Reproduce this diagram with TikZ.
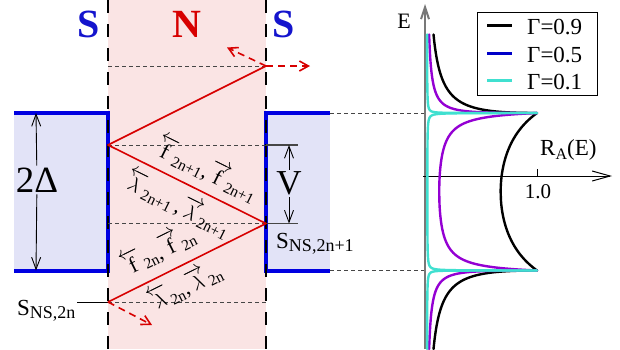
\documentclass[tikz,border=0pt]{standalone}
\usepackage{amsmath}
\usepackage{fontspec}
\setmainfont{Liberation Serif}
\newfontfamily\tms{Liberation Serif}
\usetikzlibrary{arrows.meta}
\definecolor{pinkfill}{RGB}{250,228,228}
\definecolor{bluefill}{RGB}{226,227,247}
\definecolor{sblue}{RGB}{0,0,225}
\definecolor{slabel}{RGB}{20,20,205}
\definecolor{nred}{RGB}{215,0,0}
\definecolor{cturq}{RGB}{64,224,208}
\definecolor{cpurple}{RGB}{148,0,211}
\definecolor{legblue}{RGB}{0,0,200}
\definecolor{axgray}{RGB}{120,120,120}
\definecolor{dgray}{RGB}{70,70,70}
\tikzset{
  barb/.style={-{Straight Barb[length=12pt,width=9pt]}},
  bigbold/.style={font=\tms\fontsize{40}{40}\selectfont\bfseries},
  vdashline/.style={black,line width=2pt,dash pattern=on 13pt off 11pt},
  hdashline/.style={dgray,line width=1pt,dash pattern=on 4pt off 3pt},
  sblock/.style={sblue,line width=4pt},
  redline/.style={nred,line width=1.6pt},
  reddash/.style={nred,line width=1.6pt,dash pattern=on 7pt off 5pt,-{Straight Barb[length=9pt,width=10pt]}},
  lab/.style={font=\tms\fontsize{22}{22}\selectfont,inner sep=0pt},
  curve/.style={line width=2.4pt,line cap=round,line join=round},
  txt/.style={font=\tms\fontsize{#1}{#1}\selectfont},
}
\newcommand{\vfl}[2]{$\overleftarrow{\text{\tms #1}}_{\text{\tms #2}}$}
\newcommand{\vfr}[2]{$\overrightarrow{\text{\tms #1}}_{\text{\tms #2}}$}
\newcommand{\vll}[1]{$\overleftarrow{\lambda}_{\text{\tms #1}}$}
\newcommand{\vlr}[1]{$\overrightarrow{\lambda}_{\text{\tms #1}}$}
\begin{document}
\begin{tikzpicture}[x=1pt,y=-1pt]
\useasboundingbox (0,0) rectangle (620,349);
% fills
\fill[pinkfill] (108,0) rectangle (266,349);
\fill[bluefill] (14,113) rectangle (108,270.5);
\fill[bluefill] (266,113) rectangle (330,270.5);
% S blocks edges
\draw[sblock] (14,113) -- (108,113) -- (108,270.5) -- (14,270.5);
\draw[sblock] (330,113) -- (266,113) -- (266,270.5) -- (330,270.5);
% vertical dashed interfaces
\coordinate (iLt) at (108,0); \coordinate (iLb) at (108,349);
\coordinate (iRt) at (266,0); \coordinate (iRb) at (266,349);
\draw[vdashline] (iLt) -- (iLb);
\draw[vdashline] (iRt) -- (iRb);
% zigzag points
\coordinate (p0) at (108,302);
\coordinate (p1) at (266,223.5);
\coordinate (p2) at (108,145);
\coordinate (p3) at (266,66);
\coordinate (q3) at (108,66);
\coordinate (q1) at (108,223.5);
\coordinate (q2) at (266,145);
\coordinate (q0) at (266,302);
\draw[hdashline] (q3) -- (p3);
\draw[hdashline] (p2) -- (q2);
\draw[hdashline] (q1) -- (p1);
\draw[hdashline] (p0) -- (q0);
% solid level markers
\coordinate (m2) at (298,145);
\coordinate (m1) at (298,223.5);
\coordinate (m0) at (77,302);
\draw[dgray,line width=1.2pt] (q2) -- (m2);
\draw[dgray,line width=1.2pt] (p1) -- (m1);
\draw[black,line width=1pt] (m0) -- (p0);
% red zigzag
\draw[redline,line join=round] (p0) -- (p1) -- (p2) -- (p3);
\coordinate (t1) at (310,66);
\coordinate (t2) at (227,47.5);
\coordinate (t3) at (152,325);
\draw[reddash] (p3) -- (t1);
\draw[reddash] (p3) -- (t2);
\draw[reddash] (p0) -- (t3);
% titles
\node[bigbold,text=slabel] (S1) at (89,24) {S};
\node[bigbold,text=nred] (N) at (187,24) {N};
\node[bigbold,text=slabel] (S2) at (284,24) {S};
% 2Delta
\coordinate (dtop) at (36,113);
\coordinate (dbot) at (36,270.5);
\node[txt=37,inner sep=2pt] (dlab) at (37,180) {2Δ};
\draw[black,line width=0.9pt,barb] (dlab) -- (dtop);
\draw[black,line width=0.9pt,barb] (dlab) -- (dbot);
% V
\coordinate (vtop) at (289,145);
\coordinate (vbot) at (289,223.5);
\node[txt=35,inner sep=2pt] (vlab) at (289,183.5) {V};
\draw[black,line width=0.9pt,barb] (vlab) -- (vtop);
\draw[black,line width=0.9pt,barb] (vlab) -- (vbot);
% S_NS labels
\node[anchor=base west,inner sep=0pt,txt=23] (sns1) at (276,248) {S\raisebox{-3pt}{\tms\fontsize{18}{18}\selectfont NS,2n+1}};
\node[anchor=base west,inner sep=0pt,txt=23] (sns0) at (17,315) {S\raisebox{-3pt}{\tms\fontsize{18}{18}\selectfont NS,2n}};
% amplitude labels
\node[lab,rotate=-26.4] (fA) at (207,169) {\vfl{f}{2n+1},\vfr{f}{2n+1}};
\node[lab,rotate=-26.4] (lA) at (178,204) {\vll{2n+1}\,,\vlr{2n+1}};
\node[lab,rotate=26.4] (fB) at (158,250) {\vfl{f}{2n},\vfr{f}{2n}};
\node[lab,rotate=26.4] (lB) at (185,286) {\vll{2n},\vlr{2n}};
% plot axes
\coordinate (gl1) at (330,113); \coordinate (gr1) at (425,113);
\coordinate (gl2) at (330,270.5); \coordinate (gr2) at (425,270.5);
\draw[hdashline] (gl1) -- (gr1);
\draw[hdashline] (gl2) -- (gr2);
\coordinate (ey0) at (425,349); \coordinate (ey1) at (425,4);
\draw[axgray,line width=2pt,-{Straight Barb[length=12pt,width=8pt]}] (ey0) -- (ey1);
\coordinate (ex0) at (423,176); \coordinate (ex1) at (612,176);
\draw[black,line width=1pt,-{Straight Barb[length=18pt,width=10pt]}] (ex0) -- (ex1);
\coordinate (tk0) at (537,176); \coordinate (tk1) at (537,169);
\draw[black,line width=1pt] (tk0) -- (tk1);
\node[txt=21] (one) at (538,192) {1.0};
\node[txt=22] (Elab) at (404,21) {E};
\node[anchor=base west,inner sep=0pt,txt=23] (RA) at (540,155) {R\raisebox{-4pt}{\tms\fontsize{16}{16}\selectfont A}(E)};
% curves: A = 2/Gamma - 1
\foreach \A/\col in {1.2222/black, 3/cpurple, 19/cturq}{
  \pgfmathsetmacro{\Km}{\A*\A-1}
  \draw[curve,\col] plot[domain=0:1,samples=300,variable=\s]
    ({427+110/(1+\Km*\s^4)},{191.75-78.75*sqrt(abs(1-\s^4))})
    -- plot[domain=1:0,samples=300,variable=\s]
    ({427+110/(1+\Km*\s^4)},{191.75+78.75*sqrt(abs(1-\s^4))});
  \draw[curve,\col] plot[domain=0:1.31607,samples=160,variable=\q]
    ({427+110/((1+\q^4)*(1+\A*\q^2/sqrt(1+\q^4))^2)},{191.75-78.75*sqrt(1+\q^4)});
  \draw[curve,\col] plot[domain=0:1.31607,samples=160,variable=\q]
    ({427+110/((1+\q^4)*(1+\A*\q^2/sqrt(1+\q^4))^2)},{191.75+78.75*sqrt(1+\q^4)});
}
% legend
\node[draw=black,line width=0.8pt,minimum width=120pt,minimum height=82.5pt,inner sep=0pt] (leg) at (537,53.75) {};
\foreach \yy/\col/\g in {25.5/black/0.9, 53/legblue/0.5, 80.5/cturq/0.1}{
  \draw[\col,line width=3pt] (487,\yy) -- (512,\yy);
  \node[anchor=base west,inner sep=0pt,txt=23] at (527,\yy+9) {Γ=\g};
}
\end{tikzpicture}
\end{document}
